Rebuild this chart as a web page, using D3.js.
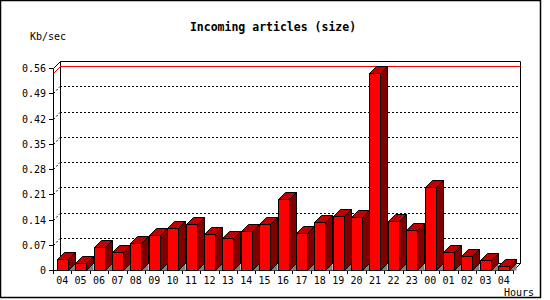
<!DOCTYPE html>
<html>
<head>
<meta charset="utf-8">
<script src="https://cdn.jsdelivr.net/npm/d3@7"></script>
<style>
  body { margin: 0; background: #fff; }
  text { font-family: "DejaVu Sans Mono", monospace; }
</style>
</head>
<body>
<script>
// hours shown along the bottom
const hours = ["04","05","06","07","08","09","10","11","12","13","14","15","16",
               "17","18","19","20","21","22","23","00","01","02","03","04"];
// Kb/sec per hour
const sizes = [0.030,0.019,0.063,0.049,0.075,0.097,0.116,0.128,0.099,0.088,0.107,0.128,0.196,
               0.102,0.132,0.149,0.146,0.546,0.135,0.111,0.229,0.049,0.038,0.027,0.010];
const yTicks = [0,0.07,0.14,0.21,0.28,0.35,0.42,0.49,0.56];

const width = 550, height = 300;
const depth = 7;          // 3d offset
const plotL = 53, plotR = 513, plotB = 270, plotT = 68;

const svg = d3.select("body").append("svg")
  .attr("width", width)
  .attr("height", height);

// outer border
svg.append("rect")
  .attr("x", 0.5).attr("y", 0.5)
  .attr("width", 540).attr("height", 297)
  .attr("fill", "#fff")
  .attr("stroke", "#000")
  .attr("stroke-width", 1.5);

const x = d3.scaleBand()
  .domain(d3.range(hours.length))
  .range([plotL, plotR]);

const y = d3.scaleLinear()
  .domain([0, 0.56])
  .range([plotB, plotT]);

const g = svg.append("g");

// dotted grid on the back plane + diagonals to the front axis
yTicks.slice(1, -1).forEach(t => {
  const yy = Math.round(y(t)) + 0.5;
  g.append("line")
    .attr("x1", plotL + depth).attr("x2", plotR + depth)
    .attr("y1", yy - depth).attr("y2", yy - depth)
    .attr("stroke", "#000").attr("stroke-dasharray", "2,2");
  g.append("line")
    .attr("x1", plotL + 0.5).attr("x2", plotL + depth)
    .attr("y1", yy).attr("y2", yy - depth)
    .attr("stroke", "#000").attr("stroke-dasharray", "2,2");
});

// back frame
const bx0 = plotL + depth + 0.5, bx1 = plotR + depth + 0.5;
const by0 = Math.round(y(0.56)) - depth + 0.5, by1 = plotB - depth + 0.5;
g.append("path")
  .attr("d", `M${plotL + 0.5},${by0 + depth}L${bx0},${by0}L${bx1},${by0}L${bx1},${by1}L${plotR + 0.5},${plotB + 0.5}`)
  .attr("fill", "none").attr("stroke", "#000");
g.append("line")
  .attr("x1", bx0).attr("x2", bx0).attr("y1", by0).attr("y2", by1)
  .attr("stroke", "#000");
g.append("line")
  .attr("x1", bx0).attr("x2", bx1).attr("y1", by1).attr("y2", by1)
  .attr("stroke", "#000");

// maximum line in red
const maxV = d3.max(sizes);
const my = Math.round(y(maxV)) + 0.5;
g.append("path")
  .attr("d", `M${plotL + 0.5},${my}L${bx0},${my - depth}L${bx1},${my - depth}`)
  .attr("fill", "none").attr("stroke", "#f00");

// front axes
g.append("line")
  .attr("x1", plotL + 0.5).attr("x2", plotL + 0.5)
  .attr("y1", by0 + depth).attr("y2", plotB + 0.5)
  .attr("stroke", "#000");
g.append("line")
  .attr("x1", plotL).attr("x2", plotR + 0.5)
  .attr("y1", plotB + 0.5).attr("y2", plotB + 0.5)
  .attr("stroke", "#000");

// y ticks and labels
yTicks.forEach(t => {
  const yy = Math.round(y(t)) + 0.5;
  g.append("line")
    .attr("x1", plotL - 4).attr("x2", plotL)
    .attr("y1", yy).attr("y2", yy)
    .attr("stroke", "#000");
  g.append("text")
    .attr("x", 46).attr("y", yy + 3.5)
    .attr("text-anchor", "end")
    .attr("font-size", 10)
    .text(t === 0 ? "0" : d3.format(".2f")(t));
});

// x ticks and labels
d3.range(hours.length + 1).forEach(i => {
  const xx = Math.round(plotL + i * x.step()) + 0.5;
  g.append("line")
    .attr("x1", xx).attr("x2", xx)
    .attr("y1", plotB).attr("y2", plotB + 4)
    .attr("stroke", "#000");
});
g.selectAll(".xl")
  .data(hours)
  .join("text")
  .attr("class", "xl")
  .attr("x", (d, i) => x(i) + x.bandwidth() / 2)
  .attr("y", 284)
  .attr("text-anchor", "middle")
  .attr("font-size", 10)
  .text(d => d);

// bars
const bw = 11;
const bars = g.selectAll(".bar")
  .data(sizes)
  .join("g")
  .attr("class", "bar");

bars.each(function(v, i) {
  const b = d3.select(this);
  const x0 = Math.round(x(i) + x.bandwidth() / 2 - bw / 2) + 0.5;
  const x1 = x0 + bw;
  const yt = Math.round(y(v)) + 0.5;
  const yb = plotB + 0.5;
  // shadow on the floor
  b.append("path")
    .attr("d", `M${x1},${yb}L${x1 + depth},${yb - depth}L${x1 + depth},${yb}Z`)
    .attr("fill", "#808080");
  // side
  b.append("path")
    .attr("d", `M${x1},${yt}L${x1 + depth},${yt - depth}L${x1 + depth},${yb - depth}L${x1},${yb}Z`)
    .attr("fill", "#800000").attr("stroke", "#000");
  // top
  b.append("path")
    .attr("d", `M${x0},${yt}L${x0 + depth},${yt - depth}L${x1 + depth},${yt - depth}L${x1},${yt}Z`)
    .attr("fill", "#c00000").attr("stroke", "#000");
  // front
  b.append("rect")
    .attr("x", x0).attr("y", yt)
    .attr("width", bw).attr("height", yb - yt)
    .attr("fill", "#ff0000").attr("stroke", "#000");
});

// texts
svg.append("text")
  .attr("x", 273).attr("y", 31)
  .attr("text-anchor", "middle")
  .attr("font-size", 11.5)
  .attr("font-weight", "bold")
  .text("Incoming articles (size)");

svg.append("text")
  .attr("x", 30).attr("y", 40)
  .attr("font-size", 10)
  .text("Kb/sec");

svg.append("text")
  .attr("x", 504).attr("y", 296)
  .attr("font-size", 10)
  .text("Hours");
</script>
</body>
</html>
